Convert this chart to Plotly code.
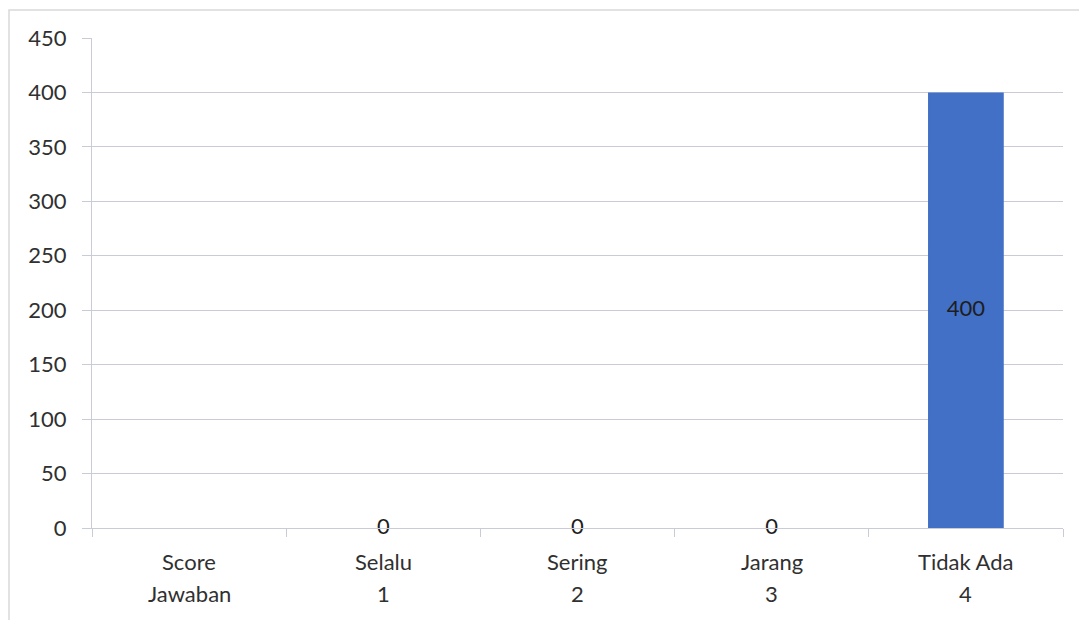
import plotly.graph_objects as go

categories = ["Score Jawaban", "Selalu 1", "Sering 2", "Jarang 3", "Tidak Ada 4"]
label_line1 = ["Score", "Selalu", "Sering", "Jarang", "Tidak Ada"]
label_line2 = ["Jawaban", "1", "2", "3", "4"]
values = [None, 0, 0, 0, 400]
y_ticks = [0, 50, 100, 150, 200, 250, 300, 350, 400, 450]

label_x = [c for c, v in zip(categories, values) if v is not None]
label_y = [v / 2 for v in values if v is not None]
label_text = [str(v) for v in values if v is not None]

FONT = "Lato, Open Sans, sans-serif"
GRID = "#c9ccd6"
TXT = "#303030"
FS = 22

fig = go.Figure()
fig.add_trace(go.Bar(x=categories, y=values, marker=dict(color="#4270c6", line=dict(width=0)),
                     hoverinfo="skip"))
fig.add_trace(go.Scatter(x=label_x, y=label_y, mode="text", text=label_text,
                         textfont=dict(family=FONT, size=FS, color="#1e1e1e"),
                         textposition="middle center", hoverinfo="skip", cliponaxis=False))

annotations = []
for c, l1, l2 in zip(categories, label_line1, label_line2):
    annotations.append(dict(x=c, xref="x", y=0, yref="paper", text=l1, showarrow=False,
                            yanchor="middle", yshift=-33, font=dict(family=FONT, size=FS, color=TXT)))
    annotations.append(dict(x=c, xref="x", y=0, yref="paper", text=l2, showarrow=False,
                            yanchor="middle", yshift=-65, font=dict(family=FONT, size=FS, color=TXT)))

fig.update_layout(
    width=1079, height=612,
    margin=dict(l=84, r=24, t=30, b=92, autoexpand=False),
    paper_bgcolor="white", plot_bgcolor="white",
    showlegend=False, bargap=0.61,
    font=dict(family=FONT, size=FS, color=TXT),
    annotations=annotations,
    shapes=[dict(type="rect", xref="paper", yref="paper",
                 x0=(1-84)/971, x1=(1075-84)/971, y0=-0.3, y1=(520-2)/490,
                 line=dict(color="#d9d9d9", width=1.5), layer="below")],
)
fig.update_xaxes(
    type="category", showgrid=False, showline=True, linecolor=GRID, linewidth=1,
    ticks="outside", tickson="boundaries", ticklen=8, tickcolor=GRID,
    showticklabels=False, automargin=False,
)
fig.update_yaxes(
    range=[0, 450], tickvals=y_ticks, showgrid=True, gridcolor=GRID, gridwidth=1,
    showline=True, linecolor=GRID, linewidth=1, zeroline=False,
    ticks="outside", ticklen=9, tickcolor=GRID, automargin=False,
    tickfont=dict(family=FONT, size=FS, color=TXT), ticklabelstandoff=11,
)

fig.write_html("out.html")
